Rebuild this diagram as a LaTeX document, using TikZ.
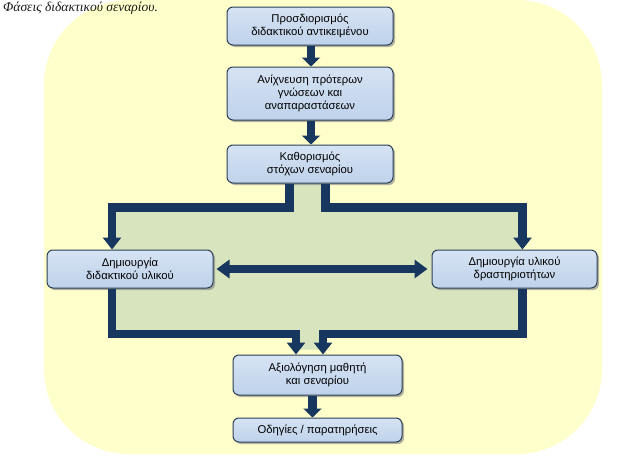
\documentclass[tikz,border=0pt]{standalone}
\usepackage{fontspec}
\setmainfont{Liberation Sans}
\newfontfamily\titlefont{Liberation Serif}
\usetikzlibrary{arrows.meta,shadows}
\definecolor{bgyellow}{HTML}{FFFFCC}
\definecolor{bggreen}{HTML}{D7E4BD}
\definecolor{barblue}{HTML}{17375E}
\definecolor{boxtop}{HTML}{D6E3F4}
\definecolor{boxbot}{HTML}{BED2EA}
\definecolor{boxline}{HTML}{2B3F57}
\pgfdeclarelayer{back}
\pgfsetlayers{back,main}
\tikzset{
  box/.style={draw=boxline, line width=1pt, rounded corners=6pt,
    top color=boxtop, bottom color=boxbot, align=center, inner sep=2pt,
    font=\fontsize{11.3}{12.8}\selectfont, text=black,
    drop shadow={shadow xshift=2pt, shadow yshift=-2pt, fill=black!50, opacity=0.6}},
  bar/.style={draw=barblue, line width=8.5pt, line join=miter, line cap=butt,
    -{Triangle[length=12pt,width=18pt]}},
  smallbar/.style={draw=barblue, line width=8.5pt, line cap=butt,
    -{Triangle[length=9pt,width=18pt]}},
}
\begin{document}
\begin{tikzpicture}[x=1pt,y=-1pt]
\useasboundingbox (0,0) rectangle (643,458);

\node[anchor=base west, inner sep=0pt, text=black!90,
  font=\titlefont\itshape\fontsize{13.5}{15}\selectfont] (title) at (3,11) {Φάσεις διδακτικού σεναρίου.};

\node[box, minimum width=166pt, minimum height=38pt] (n1) at (310,26) {Προσδιορισμός\\διδακτικού αντικειμένου};
\node[box, minimum width=166pt, minimum height=53pt] (n2) at (310,93.5) {Ανίχνευση πρότερων\\γνώσεων και\\αναπαραστάσεων};
\node[box, minimum width=166pt, minimum height=38pt] (n3) at (310,164) {Καθορισμός\\στόχων σεναρίου};
\node[box, minimum width=166pt, minimum height=38pt] (n4) at (130,269) {Δημιουργία\\διδακτικού υλικού};
\node[box, minimum width=165pt, minimum height=38pt] (n5) at (514.5,269) {Δημιουργία υλικού\\δραστηριοτήτων};
\node[box, minimum width=169pt, minimum height=40pt] (n6) at (317.5,375) {Αξιολόγηση μαθητή\\και σεναρίου};
\node[box, minimum width=169pt, minimum height=24pt] (n7) at (317.5,430) {Οδηγίες / παρατηρήσεις};

\coordinate (xl) at (112,0);
\coordinate (xr) at (522.5,0);
\coordinate (ya) at (0,207.5);
\coordinate (yb) at (0,334);
\coordinate (t1) at ([xshift=-20.5pt]n3.south);
\coordinate (t2) at ([xshift=15.5pt]n3.south);
\coordinate (b1) at ([xshift=-21.5pt]n6.north);
\coordinate (b2) at ([xshift=5.5pt]n6.north);
\coordinate (s7) at ([xshift=-5pt]n6.south);

\begin{pgfonlayer}{back}
\fill[bgyellow, rounded corners=85pt] (44,0) rectangle (602,454);
\fill[bggreen] (t1) -- (t2) -- (t2 |- ya) -- (xr |- ya) -- (xr |- yb) -- (b2 |- yb)
  -- ([yshift=5pt]b2) -- ([yshift=5pt]b1) -- (b1 |- yb) -- (xl |- yb) -- (xl |- ya) -- (t1 |- ya) -- cycle;
\end{pgfonlayer}

\draw[smallbar] ([xshift=1pt]n1.south) -- ([xshift=1pt]n2.north);
\draw[smallbar] ([xshift=1pt]n2.south) -- ([xshift=1pt]n3.north);
\draw[smallbar] (s7) -- (s7 |- n7.north);

\draw[bar] (t1) |- (xl |- ya) -- (xl |- n4.north);
\draw[bar] (t2) |- (xr |- ya) -- (xr |- n5.north);
\draw[bar] (xl |- n4.south) |- (b1 |- yb) -- (b1);
\draw[bar] (xr |- n5.south) |- (b2 |- yb) -- (b2);
\draw[bar, {Triangle[length=13pt,width=18pt]}-{Triangle[length=13pt,width=18pt]},
  shorten <=3pt, shorten >=4pt] (n4.east) -- (n5.west);
\end{tikzpicture}
\end{document}
